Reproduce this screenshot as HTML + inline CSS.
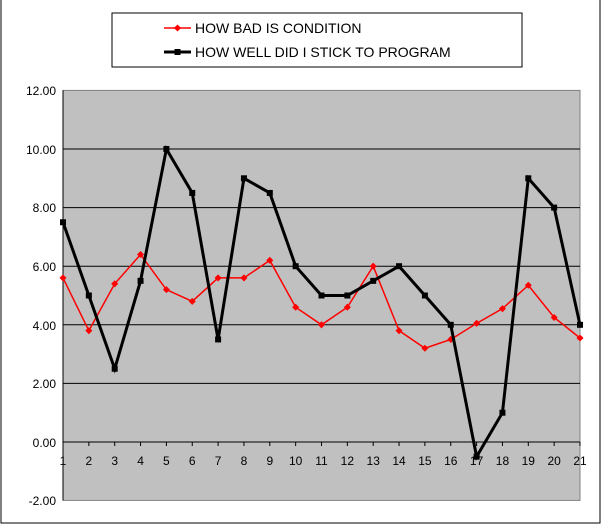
<!DOCTYPE html>
<html><head><meta charset="utf-8"><style>body{margin:0;background:#fff}svg{display:block}</style></head><body>
<svg width="604" height="529" xmlns="http://www.w3.org/2000/svg" font-family="Liberation Sans, sans-serif">
<rect x="1" y="-2" width="599" height="525" fill="#fff" stroke="#000" stroke-width="1"/>
<rect x="63" y="90.4" width="517" height="410" fill="#c0c0c0" stroke="#808080"/>
<g stroke="#000" stroke-width="1">
<line x1="63" x2="580" y1="149" y2="149"/><line x1="63" x2="580" y1="207.6" y2="207.6"/>
<line x1="63" x2="580" y1="266.2" y2="266.2"/><line x1="63" x2="580" y1="324.8" y2="324.8"/>
<line x1="63" x2="580" y1="383.4" y2="383.4"/><line x1="63" x2="580" y1="442" y2="442"/>
<line x1="63" x2="63" y1="90.4" y2="500.4"/>
</g>
<g id="ticks" stroke="#000"></g>
<g font-size="12" text-anchor="end" fill="#000">
<text x="56" y="95">12.00</text><text x="56" y="154">10.00</text><text x="56" y="212">8.00</text>
<text x="56" y="271">6.00</text><text x="56" y="330">4.00</text><text x="56" y="388">2.00</text>
<text x="56" y="447">0.00</text><text x="56" y="505">-2.00</text>
</g>
<g id="xl" font-size="12" text-anchor="middle"></g>
<polyline id="red" fill="none" stroke="#ff0000" stroke-width="1.5"/>
<g id="redm" fill="#ff0000"></g>
<polyline id="blk" fill="none" stroke="#000" stroke-width="3"/>
<g id="blkm" fill="#000"></g>
<rect x="112" y="13" width="410" height="54" fill="#fff" stroke="#000"/>
<line x1="164" x2="191" y1="28" y2="28" stroke="#ff0000" stroke-width="1.5"/>
<rect x="175" y="25.5" width="5" height="5" fill="#ff0000" transform="rotate(45 177.5 28)"/>
<line x1="164" x2="191" y1="52" y2="52" stroke="#000" stroke-width="3"/>
<rect x="174.5" y="49" width="6" height="6" fill="#000"/>
<g font-size="14" fill="#000"><text x="195" y="33">HOW BAD IS CONDITION</text><text x="195" y="57">HOW WELL DID I STICK TO PROGRAM</text></g>
<script>
var r=[5.6,3.8,5.4,6.4,5.2,4.8,5.6,5.6,6.2,4.6,4.0,4.6,6.0,3.8,3.2,3.5,4.05,4.55,5.35,4.25,3.55];
var b=[7.5,5,2.5,5.5,10,8.5,3.5,9,8.5,6,5,5,5.5,6,5,4,-0.5,1,9,8,4];
function X(i){return 63+i*25.85}function Y(v){return 442-v*29.3}
var ns="http://www.w3.org/2000/svg";
document.getElementById('red').setAttribute('points',r.map((v,i)=>X(i)+','+Y(v)).join(' '));
document.getElementById('blk').setAttribute('points',b.map((v,i)=>X(i)+','+Y(v)).join(' '));
var t=document.getElementById('ticks'),xl=document.getElementById('xl'),rm=document.getElementById('redm'),bm=document.getElementById('blkm');
for(var i=0;i<21;i++){
var l=document.createElementNS(ns,'line');l.setAttribute('x1',X(i));l.setAttribute('x2',X(i));l.setAttribute('y1',442);l.setAttribute('y2',446);t.appendChild(l);
var tx=document.createElementNS(ns,'text');tx.setAttribute('x',X(i));tx.setAttribute('y',465);tx.textContent=i+1;xl.appendChild(tx);
var p=document.createElementNS(ns,'rect');p.setAttribute('x',X(i)-2.5);p.setAttribute('y',Y(r[i])-2.5);p.setAttribute('width',5);p.setAttribute('height',5);p.setAttribute('transform','rotate(45 '+X(i)+' '+Y(r[i])+')');rm.appendChild(p);
var q=document.createElementNS(ns,'rect');q.setAttribute('x',X(i)-3);q.setAttribute('y',Y(b[i])-3);q.setAttribute('width',6);q.setAttribute('height',6);bm.appendChild(q);}
</script>
</svg>
</body></html>
